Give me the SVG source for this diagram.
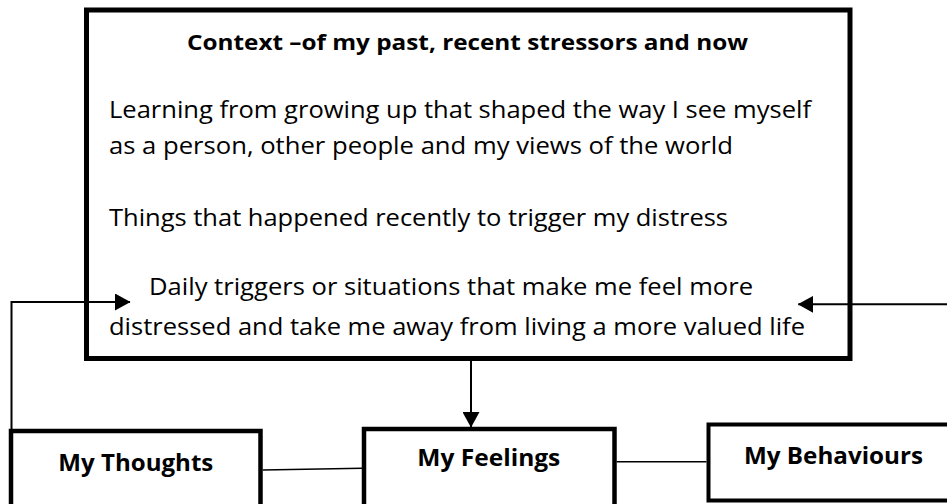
<svg xmlns="http://www.w3.org/2000/svg" width="947" height="504" viewBox="0 0 947 504">
<style>
.box{fill:#fff;stroke:#000}
.t{font-family:"Open Sans","Noto Sans","Liberation Sans",sans-serif;font-size:24.5px;fill:#000}
.b{font-family:"Open Sans","Noto Sans","Liberation Sans",sans-serif;font-size:22px;font-weight:bold;fill:#000}
.bl{font-size:23.5px}
.c{fill:none;stroke:#000}
</style>
<defs>
<marker id="ah" markerUnits="userSpaceOnUse" markerWidth="16" markerHeight="17" refX="15" refY="8.5" orient="auto" viewBox="0 0 16 17">
<path d="M0,0 L15.5,8.5 L0,17 z" fill="#000"/>
</marker>
</defs>
<rect width="947" height="504" fill="#fff"/>
<g id="context">
<rect class="box" x="86.5" y="10" width="763.5" height="348.5" stroke-width="5"/>
<text class="b" x="187" y="49.5" textLength="561" lengthAdjust="spacingAndGlyphs">Context –of my past, recent stressors and now</text>
<text class="t" x="109" y="117.5" textLength="702" lengthAdjust="spacingAndGlyphs">Learning from growing up that shaped the way I see myself</text>
<text class="t" x="109" y="153.5" textLength="624" lengthAdjust="spacingAndGlyphs">as a person, other people and my views of the world</text>
<text class="t" x="109" y="226" textLength="619" lengthAdjust="spacingAndGlyphs">Things that happened recently to trigger my distress</text>
<text class="t" x="149" y="294.5" textLength="604" lengthAdjust="spacingAndGlyphs">Daily triggers or situations that make me feel more</text>
<text class="t" x="109" y="334.5" textLength="696" lengthAdjust="spacingAndGlyphs">distressed and take me away from living a more valued life</text>
</g>
<g id="thoughts">
<rect class="box" x="11" y="431" width="249.5" height="100" stroke-width="4.5"/>
<text class="b bl" x="58.3" y="470.5" textLength="155" lengthAdjust="spacingAndGlyphs">My Thoughts</text>
</g>
<g id="feelings">
<rect class="box" x="364" y="429" width="250.5" height="100" stroke-width="4.5"/>
<text class="b bl" x="417.3" y="465.5" textLength="143" lengthAdjust="spacingAndGlyphs">My Feelings</text>
</g>
<g id="behaviours">
<rect class="box" x="708.5" y="424.5" width="260" height="76" stroke-width="4"/>
<text class="b bl" x="744" y="464.3" textLength="179" lengthAdjust="spacingAndGlyphs">My Behaviours</text>
</g>
<g id="connectors">
<polyline class="c" stroke-width="2" points="11.5,429 11.5,302 130,302" marker-end="url(#ah)"/>
<line class="c" stroke-width="2" x1="947" y1="304.3" x2="798.3" y2="304.3" marker-end="url(#ah)"/>
<line class="c" stroke-width="2" x1="471" y1="361" x2="471" y2="427" marker-end="url(#ah)"/>
<line class="c" stroke-width="1.5" x1="262.7" y1="470" x2="362" y2="468.3"/>
<line class="c" stroke-width="1.5" x1="616.7" y1="461.7" x2="706.5" y2="461.7"/>
</g>
</svg>
